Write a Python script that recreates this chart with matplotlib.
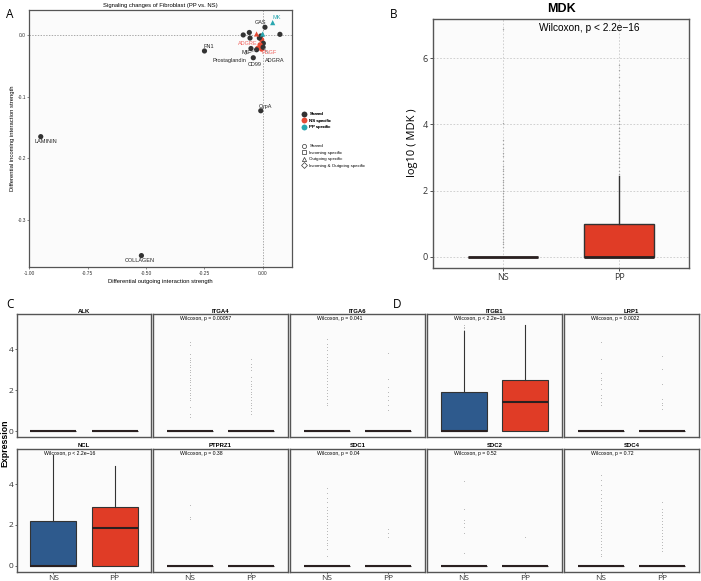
import matplotlib
matplotlib.use("Agg")
import matplotlib.pyplot as plt
from matplotlib.lines import Line2D

plt.rcParams["font.family"] = ["Liberation Sans", "DejaVu Sans"]

W, H = 701, 581

# ---- panel A: signaling changes scatter ----
a_labels = ["LAMININ", "COLLAGEN", "FN1", "CypA", "GAS", "MK", "", "", "", "",
            "MIF", "CD99", "ADGRE", "", "", "", "", "", "PDGF", "Prostaglandin",
            "", "ADGRA", ""]
a_out = [-0.951, -0.520, -0.250, -0.009, 0.009, 0.042, 0.073, -0.084, -0.058, -0.055,
         -0.051, -0.041, -0.027, -0.001, -0.009, -0.005, 0.002, -0.012, -0.022, -0.027,
         -0.005, 0.001, -0.015]
a_in = [-0.165, -0.358, -0.026, -0.123, 0.0125, 0.020, 0.001, 0.000, 0.004, -0.005,
        -0.022, -0.037, 0.0016, 0.0016, -0.0016, -0.008, -0.0135, -0.016, -0.0216, -0.024,
        -0.023, -0.020, -0.005]
a_group = ["Shared", "Shared", "Shared", "Shared", "Shared", "PP specific", "Shared",
           "Shared", "Shared", "Shared", "Shared", "Shared", "NS specific", "PP specific",
           "Shared", "NS specific", "Shared", "NS specific", "NS specific", "Shared",
           "NS specific", "Shared", "Shared"]
a_shape = ["Shared"] * 5 + ["Outgoing specific"] + ["Shared"] * 6 + \
          ["Outgoing specific", "Outgoing specific"] + ["Shared"] * 9
# label text positions (data coords) and whether a leader line is drawn
a_text_pos = {
    "LAMININ": (-0.93, -0.173, False), "COLLAGEN": (-0.526, -0.366, False),
    "FN1": (-0.231, -0.019, False), "CypA": (0.012, -0.116, False),
    "GAS": (-0.012, 0.020, False), "MK": (0.059, 0.0287, False),
    "MIF": (-0.072, -0.0287, False), "CD99": (-0.034, -0.0486, False),
    "ADGRE": (-0.0625, -0.0135, False), "PDGF": (0.027, -0.0287, False),
    "Prostaglandin": (-0.141, -0.042, True), "ADGRA": (0.052, -0.042, True),
}
x_ticks_a = [-1.00, -0.75, -0.50, -0.25, 0.00]
x_ticklabels_a = ["-1.00", "-0.75", "-0.50", "-0.25", "0.00"]
y_ticks_a = [0.0, -0.1, -0.2, -0.3]
y_ticklabels_a = ["0.0", "-0.1", "-0.2", "-0.3"]

GROUP_COL = {"Shared": "#333333", "NS specific": "#E64B35", "PP specific": "#2AA7B0"}
LABEL_COL = {"Shared": "#222222", "NS specific": "#F0625D", "PP specific": "#2AA7B0"}
SHAPE_MK = {"Shared": "o", "Incoming specific": "s", "Outgoing specific": "^",
            "Incoming & Outgoing specific": "D"}

# ---- panel B: MDK ----
mdk_groups = ["NS", "PP"]
mdk_q1 = [0.0, 0.0]
mdk_med = [0.0, 0.0]
mdk_q3 = [0.0, 1.0]
mdk_whishi = [0.0, 2.45]
mdk_ns_out = [0.30, 0.38, 0.46, 0.55, 0.63, 0.71, 0.80, 0.88, 0.97, 1.05, 1.14, 1.22,
              1.31, 1.40, 1.48, 1.57, 1.66, 1.74, 1.83, 1.92, 2.00, 2.08, 2.17, 2.25,
              2.33, 2.42, 2.50, 2.58, 2.66, 2.75, 2.90, 3.05, 3.15, 3.28, 3.40, 3.52,
              4.05, 6.88]
mdk_pp_out = [2.50, 2.60, 2.70, 2.80, 2.90, 3.00, 3.10, 3.20, 3.30, 3.40, 3.50, 3.60,
              3.70, 3.80, 3.90, 4.00, 4.10, 4.20, 4.30, 4.45, 4.60, 4.80, 5.00, 5.20,
              5.45, 5.65, 5.80]

# ---- panels C/D: expression facets ----
genes = ["ALK", "ITGA4", "ITGA6", "ITGB1", "LRP1", "NCL", "PTPRZ1", "SDC1", "SDC2", "SDC4"]
wilcox = ["", "Wilcoxon, p = 0.00057", "Wilcoxon, p = 0.041", "Wilcoxon, p < 2.2e\u221216",
          "Wilcoxon, p = 0.0022", "Wilcoxon, p < 2.2e\u221216", "Wilcoxon, p = 0.38",
          "Wilcoxon, p = 0.04", "Wilcoxon, p = 0.52", "Wilcoxon, p = 0.72"]
ns_med = [0, 0, 0, 0.0, 0, 0.0, 0, 0, 0, 0]
ns_q3 = [0, 0, 0, 1.93, 0, 2.20, 0, 0, 0, 0]
ns_whishi = [0, 0, 0, 4.90, 0, 5.42, 0, 0, 0, 0]
pp_med = [0, 0, 0, 1.41, 0, 1.87, 0, 0, 0, 0]
pp_q3 = [0, 0, 0, 2.49, 0, 2.86, 0, 0, 0, 0]
pp_whishi = [0, 0, 0, 5.20, 0, 4.88, 0, 0, 0, 0]
ns_out = {
    "ITGA4": [0.70, 0.86, 1.19, 1.50, 1.62, 1.75, 1.88, 2.00, 2.12, 2.25, 2.38, 2.50,
              2.62, 2.75, 2.88, 3.00, 3.12, 3.25, 3.38, 3.50, 3.60, 3.79, 4.20, 4.36],
    "ITGA6": [1.27, 1.40, 1.55, 1.70, 1.85, 2.00, 2.16, 2.30, 2.45, 2.60, 2.75, 2.90,
              3.05, 3.20, 3.35, 3.50, 3.65, 3.80, 3.95, 4.10, 4.28, 4.52],
    "ITGB1": [4.95, 5.05, 5.12, 5.20],
    "LRP1": [1.30, 1.42, 1.60, 1.75, 2.05, 2.30, 2.50, 2.60, 2.85, 3.54, 4.36],
    "PTPRZ1": [2.30, 2.40, 3.00],
    "SDC1": [0.46, 0.80, 1.00, 1.10, 1.25, 1.40, 1.55, 1.70, 1.85, 2.00, 2.15, 2.30,
             2.45, 2.60, 2.75, 2.90, 3.10, 3.30, 3.55, 3.79],
    "SDC2": [0.62, 1.60, 1.89, 2.08, 2.24, 2.76, 4.16],
    "SDC4": [0.46, 0.60, 0.75, 0.90, 1.05, 1.20, 1.35, 1.50, 1.65, 1.80, 1.95, 2.10,
             2.25, 2.40, 2.55, 2.70, 2.85, 3.00, 3.15, 3.30, 3.50, 3.70, 3.95, 4.20, 4.44],
}
pp_out = {
    "ITGA4": [0.86, 1.00, 1.13, 1.27, 1.40, 1.53, 1.66, 1.80, 1.93, 2.06, 2.20, 2.33,
              2.46, 2.65, 3.00, 3.15, 3.30, 3.54],
    "ITGA6": [1.02, 1.27, 1.50, 1.70, 1.92, 2.16, 2.57, 3.82],
    "LRP1": [1.10, 1.27, 1.40, 1.59, 2.33, 3.06, 3.70],
    "SDC1": [1.40, 1.60, 1.79],
    "SDC2": [1.43],
    "SDC4": [0.70, 0.85, 1.00, 1.15, 1.30, 1.45, 1.60, 1.75, 1.90, 2.05, 2.20, 2.35,
             2.50, 2.65, 2.80, 3.14],
}
facet_yticks = [0, 2, 4]

NS_COL = "#2E5A8D"
PP_COL = "#E03C26"
PANEL_BG = "#FBFBFB"
EDGE = "#555555"


def rect(x0, y0, x1, y1):
    return [x0 / W, 1 - y1 / H, (x1 - x0) / W, (y1 - y0) / H]


def style_frame(ax, lw=1.0):
    ax.set_facecolor(PANEL_BG)
    for s in ax.spines.values():
        s.set_color(EDGE)
        s.set_linewidth(lw)


def draw_boxes(ax, stats, colors, width, box_lw, med_lw, flier_ms):
    bp = ax.bxp(stats, positions=[1, 2], widths=width, patch_artist=True,
                showcaps=False,
                boxprops=dict(edgecolor="#333333", linewidth=box_lw),
                whiskerprops=dict(color="#333333", linewidth=box_lw),
                medianprops=dict(color="#2a2020", linewidth=med_lw),
                flierprops=dict(marker="o", markersize=flier_ms, markerfacecolor="#9a9a9a",
                                markeredgecolor="none", alpha=0.9))
    for patch, c in zip(bp["boxes"], colors):
        patch.set_facecolor(c)
    return bp


fig = plt.figure(figsize=(W / 100, H / 100), dpi=100)

# ================= A =================
axA = fig.add_axes(rect(29.3, 10, 292.3, 267.3))
style_frame(axA, 0.9)
axA.axhline(0, color="#888888", lw=0.5, ls=(0, (2, 2)), zorder=1)
axA.axvline(0, color="#888888", lw=0.5, ls=(0, (2, 2)), zorder=1)
for sh in SHAPE_MK:
    idx = [i for i, s in enumerate(a_shape) if s == sh]
    if not idx:
        continue
    axA.scatter([a_out[i] for i in idx], [a_in[i] for i in idx],
                c=[GROUP_COL[a_group[i]] for i in idx], marker=SHAPE_MK[sh],
                s=14, edgecolors="none", zorder=3)
for i, lab in enumerate(a_labels):
    if not lab:
        continue
    tx, ty, line = a_text_pos[lab]
    axA.annotate(lab, xy=(a_out[i], a_in[i]), xytext=(tx, ty), fontsize=4,
                 color=LABEL_COL[a_group[i]], ha="center", va="center", zorder=4,
                 arrowprops=dict(arrowstyle="-", color="#777777", lw=0.4,
                                 shrinkA=2, shrinkB=1) if line else None)
axA.set_xlim(-1.0, 0.126)
axA.set_ylim(-0.377, 0.0405)
axA.set_xticks(x_ticks_a)
axA.set_xticklabels(x_ticklabels_a)
axA.set_yticks(y_ticks_a)
axA.set_yticklabels(y_ticklabels_a)
axA.tick_params(labelsize=3.5, length=1.5, width=0.4, pad=1, colors="#333333")
axA.set_xlabel("Differential outgoing interaction strength", fontsize=4.2, labelpad=2)
axA.set_ylabel("Differential incoming interaction strength", fontsize=4.2, labelpad=2)
axA.set_title("Signaling changes of Fibroblast (PP vs. NS)", fontsize=4.2, pad=2.5)

col_handles = [Line2D([], [], ls="none", marker="o", ms=3, color=GROUP_COL[g], label=g)
               for g in ["Shared", "NS specific", "PP specific"]]
shp_handles = [Line2D([], [], ls="none", marker=SHAPE_MK[s], ms=3, mfc="none",
                      mec="#333333", mew=0.5, label=s) for s in SHAPE_MK]
leg1 = fig.legend(handles=col_handles, loc="upper left", bbox_to_anchor=(300 / W, 1 - 110 / H),
                  frameon=False, fontsize=3.2, labelspacing=0.55, handletextpad=0.6,
                  handlelength=1.0, borderpad=0)
leg2 = fig.legend(handles=shp_handles, loc="upper left", bbox_to_anchor=(300 / W, 1 - 142 / H),
                  frameon=False, fontsize=3.2, labelspacing=0.55, handletextpad=0.6,
                  handlelength=1.0, borderpad=0)
fig.add_artist(leg1)

# ================= B =================
axB = fig.add_axes(rect(432.7, 19.3, 689.3, 268.3))
style_frame(axB, 1.0)
for y in [0, 2, 4, 6]:
    axB.axhline(y, color="#c9c9c9", lw=0.6, ls=(0, (2, 2)), zorder=0)
for x in [1, 2]:
    axB.axvline(x, color="#c9c9c9", lw=0.6, ls=(0, (2, 2)), zorder=0)
statsB = []
for k, g in enumerate(mdk_groups):
    statsB.append(dict(med=mdk_med[k], q1=mdk_q1[k], q3=mdk_q3[k], whislo=0.0,
                       whishi=mdk_whishi[k], fliers=[mdk_ns_out, mdk_pp_out][k], label=g))
draw_boxes(axB, statsB, [NS_COL, PP_COL], 0.6, 1.0, 2.0, 1.0)
axB.set_xlim(0.4, 2.6)
axB.set_ylim(-0.35, 7.18)
axB.set_yticks([0, 2, 4, 6])
axB.set_xticks([1, 2])
axB.set_xticklabels(mdk_groups)
axB.tick_params(labelsize=6.5, length=2, width=0.6, pad=1.5, colors="#333333")
for t in axB.get_xticklabels() + axB.get_yticklabels():
    t.set_family(["Open Sans", "DejaVu Sans"])
axB.set_title("MDK", fontsize=9, fontweight="bold", pad=5)
axB.text(1.31, 6.93, "Wilcoxon, p < 2.2e\u221216", fontsize=7.3, ha="left", va="center")
fig.text(413 / W, 1 - 143 / H, "log10 ( MDK )", rotation=90, fontsize=8,
         ha="center", va="center", family=["Open Sans", "DejaVu Sans"])

# ================= C / D =================
col_lefts = [16.7, 153.0, 290.3, 427.3, 564.3]
row_tops = [314.3, 449.0]
fw, fh = 134.6, 122.5
for gi, gene in enumerate(genes):
    r, c = divmod(gi, 5)
    x0, y0 = col_lefts[c], row_tops[r]
    ax = fig.add_axes(rect(x0, y0, x0 + fw, y0 + fh))
    style_frame(ax, 1.0)
    stats = [dict(med=ns_med[gi], q1=0.0, q3=ns_q3[gi], whislo=0.0, whishi=ns_whishi[gi],
                  fliers=ns_out.get(gene, []), label="NS"),
             dict(med=pp_med[gi], q1=0.0, q3=pp_q3[gi], whislo=0.0, whishi=pp_whishi[gi],
                  fliers=pp_out.get(gene, []), label="PP")]
    draw_boxes(ax, stats, [NS_COL, PP_COL], 0.75, 0.8, 1.5, 0.7)
    ax.set_xlim(0.4, 2.6)
    ax.set_ylim(-0.28, 5.72)
    ax.set_xticks([1, 2])
    ax.set_yticks(facet_yticks)
    ax.tick_params(labelsize=6, length=1.5, width=0.5, pad=1, colors="#333333")
    if c == 0:
        ax.set_yticklabels([str(v) for v in facet_yticks])
    else:
        ax.tick_params(axis="y", length=0, labelleft=False)
    if r == 1:
        ax.set_xticklabels(["NS", "PP"])
    else:
        ax.tick_params(axis="x", length=0, labelbottom=False)
    for t in ax.get_xticklabels() + ax.get_yticklabels():
        t.set_family(["Open Sans", "DejaVu Sans"])
    ax.set_title(gene, fontsize=4.3, fontweight="bold", pad=1.2)
    if wilcox[gi]:
        ax.text(0.84, 5.52, wilcox[gi], fontsize=3.7, ha="left", va="center")

fig.text(5 / W, 1 - 443 / H, "Expression", rotation=90, fontsize=6.3, fontweight="bold",
         ha="center", va="center")

# panel letters
for lab, x, y in [("A", 10, 15), ("B", 394, 15), ("C", 10, 304), ("D", 397, 304)]:
    fig.text(x / W, 1 - y / H, lab, fontsize=8.5, ha="center", va="center",
             family=["Open Sans", "DejaVu Sans"])

fig.savefig("out.png", dpi=100)
